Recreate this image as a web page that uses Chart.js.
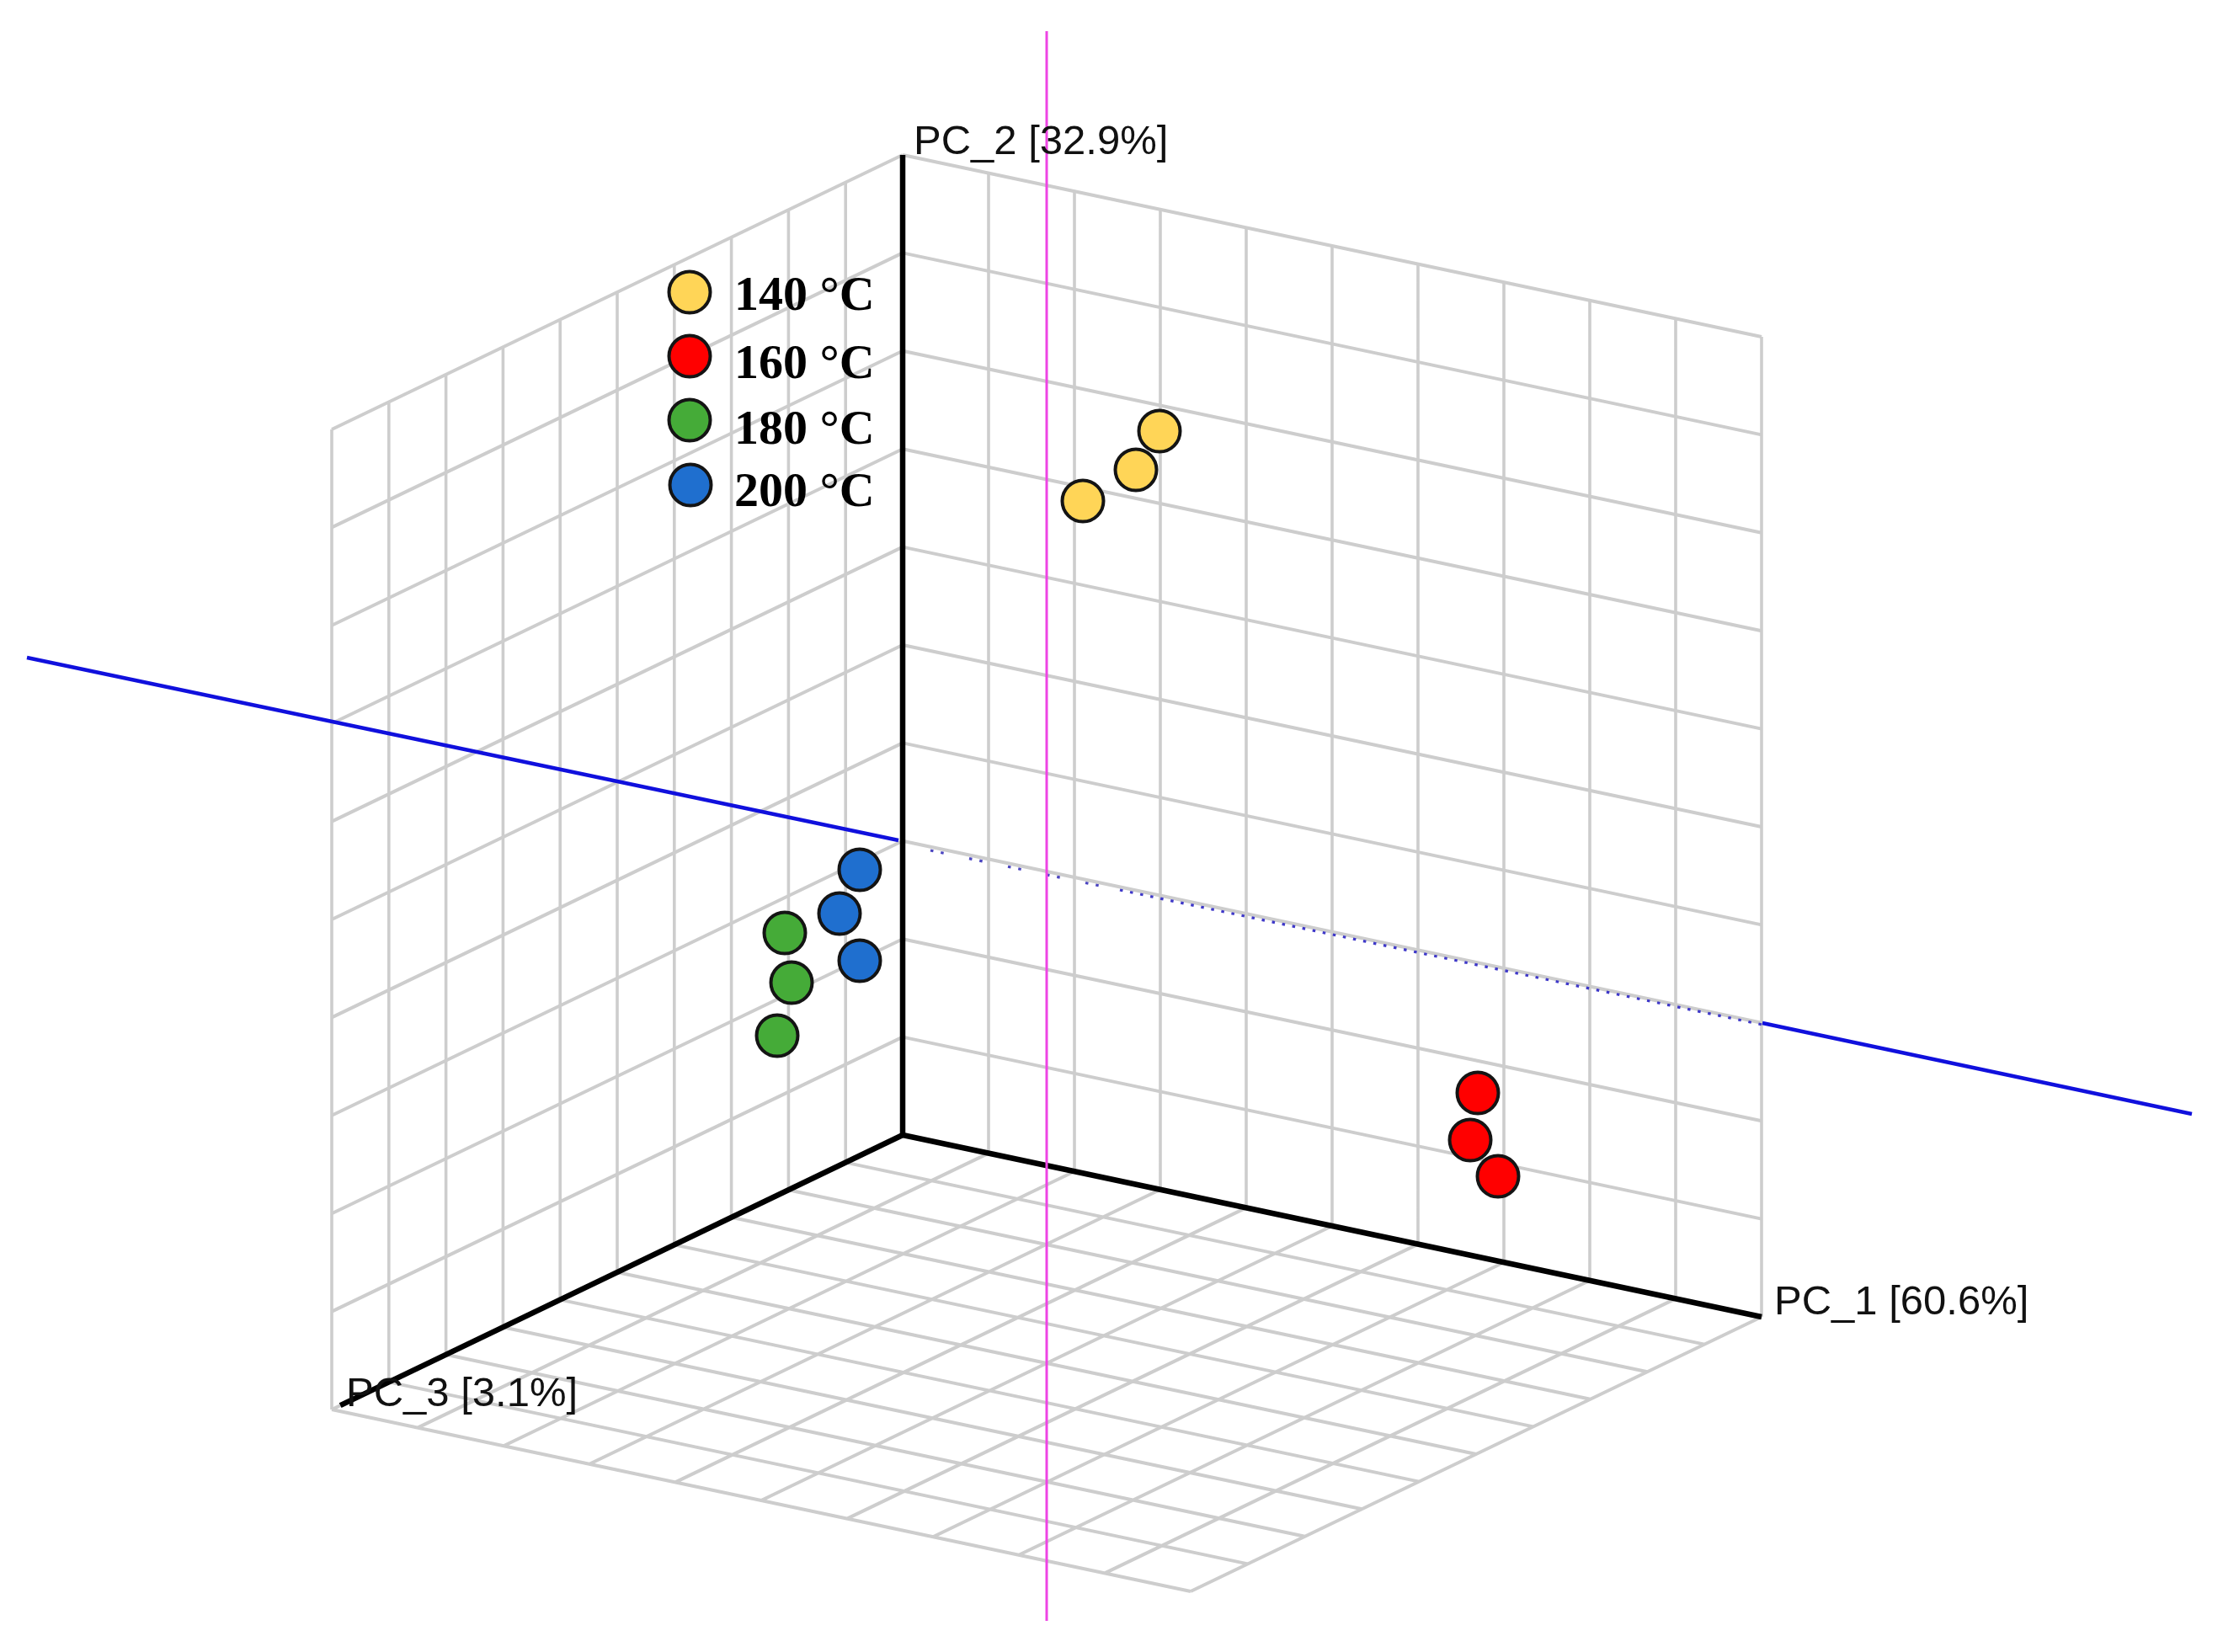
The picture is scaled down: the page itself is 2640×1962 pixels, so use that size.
<!DOCTYPE html>
<html>
<head>
<meta charset="utf-8">
<title>PCA</title>
<script src="https://cdn.jsdelivr.net/npm/chart.js@4"></script>
<style>
html, body { margin: 0; padding: 0; background: #fff; }
#wrap { width: 2640px; height: 1962px; }
</style>
</head>
<body>
<div id="wrap"><canvas id="chart" width="2640" height="1962"></canvas></div>
<script>
// samples, in plot units
var temps = ["140 °C", "160 °C", "180 °C", "200 °C"];
var colors = ["#FFD557", "#FF0000", "#45AB38", "#1F6FCF"];

var x140 = [1377, 1349, 1286];
var y140 = [512, 558, 595];
var x160 = [1755, 1746, 1779];
var y160 = [1298, 1354, 1397];
var x180 = [932, 940, 923];
var y180 = [1108, 1167, 1230];
var x200 = [1021, 997, 1021];
var y200 = [1033, 1085, 1141];

// legend
var legendX = [819, 819, 819, 820];
var legendY = [347, 423, 499, 576];
var legendTextX = 872;
var legendTextY = [368, 449, 527, 601];

// box
var gridTicks = [0, 1, 2, 3, 4, 5, 6, 7, 8, 9, 10];
var origin = [1072, 1348];
var pc1Step = [102, 21.6];
var pc2Step = [0, -116.4];
var pc3Step = [-67.8, 32.6];

// blue and magenta lines
var blueLeftX = [32, 1067];
var blueLeftY = [781, 998];
var blueSparseX = [1105, 1325];
var blueSparseY = [1010, 1056];
var blueDenseX = [1330, 2093];
var blueDenseY = [1057, 1217];
var blueRightX = [2093, 2603];
var blueRightY = [1215, 1323];
var magentaX = [1243, 1243];
var magentaY = [37, 1925];

function project(a, b, c) {
	return {
		x: origin[0] + a * pc1Step[0] + b * pc2Step[0] + c * pc3Step[0],
		y: origin[1] + a * pc1Step[1] + b * pc2Step[1] + c * pc3Step[1]
	};
}

function pairs(xs, ys) {
	return xs.map(function(v, i){
		return {x: v, y: ys[i]};
	});
}

function seg(pts, p, q) {
	pts.push(p, q, {x: NaN, y: NaN});
}

// upright lines of the two walls
function uprightLines() {
	var pts = [];
	gridTicks.forEach(function(t){
		seg(pts, project(t, 0, 0), project(t, 10, 0));
		seg(pts, project(0, 0, t), project(0, 10, t));
	});
	return pts;
}

// the slanted lines of the walls and the floor
function slantLines() {
	var pts = [];
	gridTicks.forEach(function(t){
		seg(pts, project(0, t, 0), project(10, t, 0));
		seg(pts, project(0, t, 0), project(0, t, 10));
		seg(pts, project(t, 0, 0), project(t, 0, 10));
		seg(pts, project(0, 0, t), project(10, 0, t));
	});
	return pts;
}

function lineSet(data, color, width, dash) {
	return {
		type: "line",
		data: data,
		borderColor: color,
		borderWidth: width,
		borderDash: dash || [],
		pointRadius: 0,
		fill: false,
		tension: 0,
		spanGaps: false
	};
}

function dotSet(label, data, color) {
	return {
		label: label,
		data: data,
		showLine: false,
		backgroundColor: color,
		borderColor: "#141414",
		borderWidth: 4,
		pointRadius: 24.5
	};
}

// the text on the chart
var chartText = {
	id: "chartText",
	afterDatasetsDraw: function(chart){
		var c = chart.ctx;
		var sx = chart.scales.x;
		var sy = chart.scales.y;
		c.save();
		c.textBaseline = "alphabetic";
		c.textAlign = "left";
		c.fillStyle = "#111";
		c.font = "49px 'Liberation Sans'";
		c.fillText("PC_2 [32.9%]", sx.getPixelForValue(1085), sy.getPixelForValue(183));
		c.fillText("PC_1 [60.6%]", sx.getPixelForValue(2107), sy.getPixelForValue(1561));
		c.fillText("PC_3 [3.1%]", sx.getPixelForValue(411), sy.getPixelForValue(1670));
		c.fillStyle = "#000";
		c.font = "bold 58px 'Liberation Serif'";
		temps.forEach(function(t, i){
			c.fillText(t, sx.getPixelForValue(legendTextX), sy.getPixelForValue(legendTextY[i]));
		});
		c.restore();
	}
};

// first dataset in the list ends up on top
var datasets = [
	dotSet("legend", pairs(legendX, legendY), colors),
	dotSet(temps[3], pairs(x200, y200), colors[3]),
	dotSet(temps[2], pairs(x180, y180), colors[2]),
	dotSet(temps[1], pairs(x160, y160), colors[1]),
	dotSet(temps[0], pairs(x140, y140), colors[0]),
	lineSet(pairs(magentaX, magentaY), "#EE44E4", 3),
	lineSet([project(0, 0, 0), project(0, 0, 9.85)], "#000", 6.5),
	lineSet([project(0, 0, 0), project(0, 10, 0)], "#000", 6.5),
	lineSet([project(0, 0, 0), project(10, 0, 0)], "#000", 6.5),
	lineSet(pairs(blueRightX, blueRightY), "#1010DD", 4.5),
	lineSet(pairs(blueDenseX, blueDenseY), "#3E38C8", 3.2, [3.5, 8.8]),
	lineSet(pairs(blueSparseX, blueSparseY), "#4A44C0", 3.2, [3.5, 9, 3.5, 31]),
	lineSet(pairs(blueLeftX, blueLeftY), "#1010DD", 4.5),
	lineSet(uprightLines(), "#CDCDCD", 3.6),
	lineSet(slantLines(), "#CDCDCD", 4)
];

var canvas = document.getElementById("chart").getContext("2d");
window.pca = new Chart(canvas, {
	type: "scatter",
	data: { datasets: datasets },
	options: {
		responsive: false,
		animation: false,
		devicePixelRatio: 1,
		layout: { padding: 0, autoPadding: false },
		plugins: {
			legend: { display: false },
			title: { display: false },
			tooltip: { enabled: false }
		},
		scales: {
			x: { type: "linear", display: false, min: 0, max: 2640 },
			y: { type: "linear", display: false, min: 0, max: 1962, reverse: true }
		}
	},
	plugins: [chartText]
});
</script>
</body>
</html>
